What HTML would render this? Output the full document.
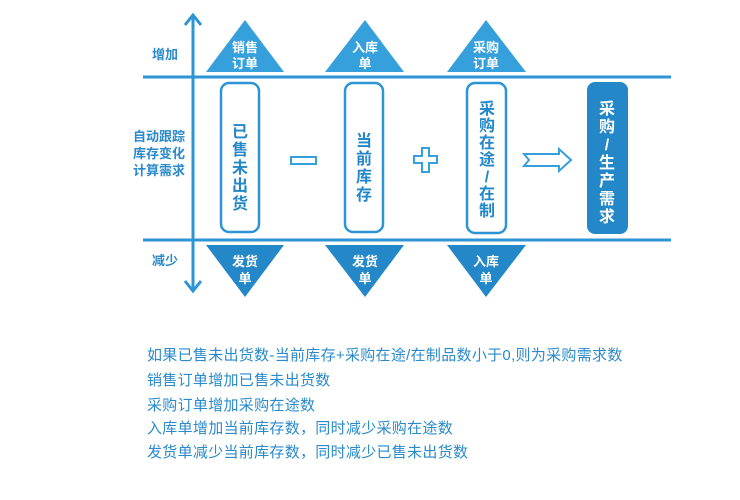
<!DOCTYPE html>
<html><head><meta charset="utf-8"><style>
body{margin:0;background:#fff;width:740px;height:500px;overflow:hidden;font-family:"Liberation Sans","Noto Sans CJK SC",sans-serif}
.t{position:absolute;font-size:15px;letter-spacing:0.3px;color:#2a8acb;left:147px;white-space:nowrap;line-height:18px}
</style></head><body>
<svg width="740" height="500" style="position:absolute;left:0;top:0" font-family="Liberation Sans, Noto Sans CJK SC, sans-serif" font-weight="bold">
<line x1="143" y1="77" x2="671" y2="77" stroke="#2d95d5" stroke-width="3"/>
<line x1="143" y1="240" x2="671" y2="240" stroke="#2d95d5" stroke-width="3"/>
<line x1="193" y1="16" x2="193" y2="290" stroke="#2d95d5" stroke-width="3"/>
<polyline points="185,25 193,15 201,25" fill="none" stroke="#2d95d5" stroke-width="3"/>
<polyline points="185,281 193,291 201,281" fill="none" stroke="#2d95d5" stroke-width="3"/>
<g fill="#2a8acb" font-size="13" text-anchor="middle">
<text x="165" y="59">增加</text>
<text x="165" y="265">减少</text>
<text x="159" y="141">自动跟踪</text>
<text x="159" y="158">库存变化</text>
<text x="159" y="175">计算需求</text>
</g>
<g fill="#36a0dc"><polygon points="245,20 206,72 284,72"/><polygon points="365,20 325,72 404,72"/><polygon points="486,20 447,72 526,72"/></g>
<g fill="#2387c8"><polygon points="245,297 206,245 284,245"/><polygon points="365,297 325,245 404,245"/><polygon points="486,297 447,245 526,245"/></g>
<g fill="#fff" font-size="13" text-anchor="middle">
<text x="245" y="52">销售</text><text x="245" y="68">订单</text>
<text x="365" y="52">入库</text><text x="365" y="68">单</text>
<text x="486" y="52">采购</text><text x="486" y="68">订单</text>
<text x="245" y="266">发货</text><text x="245" y="283">单</text>
<text x="365" y="266">发货</text><text x="365" y="283">单</text>
<text x="486" y="266">入库</text><text x="486" y="283">单</text>
</g>
<g fill="#fff" stroke="#2d95d5" stroke-width="2.5">
<rect x="221" y="83" width="38" height="149" rx="8"/>
<rect x="345" y="83" width="38" height="149" rx="8"/>
<rect x="467" y="83" width="39" height="150" rx="8"/>
</g>
<rect x="587" y="82" width="41" height="152" rx="8" fill="#2387c8"/>
<g font-size="16" text-anchor="middle">
<g fill="#2387c8">
<text x="240" y="137">已</text><text x="240" y="155">售</text><text x="240" y="173">未</text><text x="240" y="191">出</text><text x="240" y="209">货</text>
<text x="364" y="146">当</text><text x="364" y="164">前</text><text x="364" y="182">库</text><text x="364" y="200">存</text>
<text x="487" y="114">采</text><text x="487" y="131">购</text><text x="487" y="148">在</text><text x="487" y="165">途</text><text x="487" y="182">/</text><text x="487" y="199">在</text><text x="487" y="216">制</text>
</g>
<g fill="#fff">
<text x="607" y="114">采</text><text x="607" y="132">购</text><text x="607" y="150">/</text><text x="607" y="168">生</text><text x="607" y="186">产</text><text x="607" y="204">需</text><text x="607" y="222">求</text>
</g>
</g>
<rect x="291" y="157" width="25" height="7" fill="#fff" stroke="#36a0dc" stroke-width="2"/>
<path d="M422,148h7v8h8v7h-8v9h-7v-9h-8v-7h8z" fill="#fff" stroke="#36a0dc" stroke-width="2"/>
<path d="M524,154h35v-5l12,11l-12,11v-5h-35l5,-6z" fill="#fff" stroke="#36a0dc" stroke-width="2"/>
</svg>
<div class="t" style="top:347px">如果已售未出货数-当前库存+采购在途/在制品数小于0,则为采购需求数</div>
<div class="t" style="top:372px">销售订单增加已售未出货数</div>
<div class="t" style="top:397px">采购订单增加采购在途数</div>
<div class="t" style="top:420px">入库单增加当前库存数，同时减少采购在途数</div>
<div class="t" style="top:444px">发货单减少当前库存数，同时减少已售未出货数</div>
</body></html>
